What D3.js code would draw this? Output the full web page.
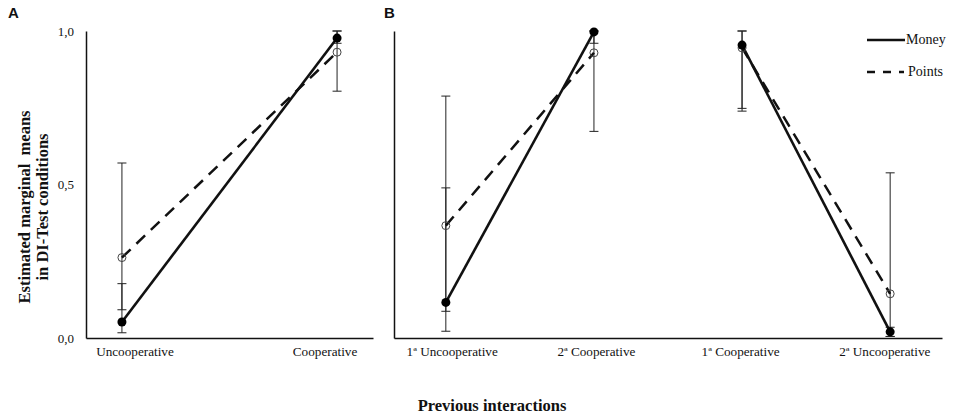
<!DOCTYPE html>
<html>
<head>
<meta charset="utf-8">
<script src="https://cdn.jsdelivr.net/npm/d3@7"></script>
<style>
  body { margin: 0; background: #fff; }
  svg { display: block; }
  text { fill: #111; }
</style>
</head>
<body>
<div id="vis"></div>
<script>
// ---- data ----
var catsA = ["Uncooperative", "Cooperative"];
var moneyA = [0.052, 0.977];
var pointsA = [0.262, 0.931];
var moneyErrA = [[0.017, 0.177], [0.96, 1.0]];
var pointsErrA = [[0.092, 0.57], [0.804, 1.0]];

var catsB = ["1ª Uncooperative", "2ª Cooperative", "1ª Cooperative", "2ª Uncooperative"];
var pairB = [0, 0, 1, 1];
var moneyB = [0.116, 0.997, 0.954, 0.02];
var pointsB = [0.366, 0.929, 0.945, 0.144];
var moneyErrB = [[0.087, 0.489], [0.96, 1.0], [0.748, 1.0], [0.005, 0.035]];
var pointsErrB = [[0.022, 0.788], [0.673, 1.0], [0.739, 1.0], [0.005, 0.538]];

var yTicks = [0, 0.5, 1];
var seriesNames = ["Money", "Points"];

var width = 957, height = 416;
var serif = "'Liberation Serif', 'Times New Roman', serif";

var svg = d3.select("#vis")
    .append("svg")
    .attr("width", width)
    .attr("height", height);

var y = d3.scaleLinear().domain([0, 1]).range([338, 31]);

////////// panel builder //////////

function panel(opts) {
  var g = svg.append("g");

  var x = d3.scalePoint().domain(opts.cats).range(opts.range).padding(opts.pad);
  var xLab = d3.scalePoint().domain(opts.cats).range(opts.range).padding(opts.labPad);

  // y axis (line only, optional labels)
  var yAxis = d3.axisLeft(y)
      .tickValues(opts.yLabels ? yTicks : [])
      .tickSize(0)
      .tickSizeOuter(0)
      .tickPadding(12)
      .tickFormat(function(d) { return d3.format(".1f")(d).replace(".", ","); });
  var ya = g.append("g")
      .attr("transform", "translate(" + opts.range[0] + ",0)")
      .call(yAxis);
  ya.select(".domain").attr("stroke", "#111").attr("stroke-width", 1.5);
  ya.selectAll("text").attr("font-family", serif).attr("font-size", 13).attr("fill", "#222");

  // x axis
  var xAxis = d3.axisBottom(xLab).tickSize(0).tickSizeOuter(0).tickPadding(9);
  var xa = g.append("g")
      .attr("transform", "translate(0," + y(0) + ")")
      .call(xAxis);
  xa.select(".domain").attr("stroke", "#111").attr("stroke-width", 1.5);
  xa.selectAll("text").attr("font-family", serif).attr("font-size", 13.2).attr("fill", "#222");

  // error bars
  var errs = [];
  opts.cats.forEach(function(c, i) {
    errs.push({c: c, lo: opts.moneyErr[i][0], hi: opts.moneyErr[i][1]});
    errs.push({c: c, lo: opts.pointsErr[i][0], hi: opts.pointsErr[i][1]});
  });
  var eb = g.append("g").attr("stroke", "#222").attr("stroke-width", 1);
  eb.selectAll(".stem").data(errs).enter().append("line")
      .attr("x1", function(d) { return x(d.c); })
      .attr("x2", function(d) { return x(d.c); })
      .attr("y1", function(d) { return y(d.lo); })
      .attr("y2", function(d) { return y(d.hi); });
  var caps = [];
  errs.forEach(function(d) { caps.push({c: d.c, v: d.lo}); caps.push({c: d.c, v: d.hi}); });
  eb.selectAll(".cap").data(caps).enter().append("line")
      .attr("x1", function(d) { return x(d.c) - 4.5; })
      .attr("x2", function(d) { return x(d.c) + 4.5; })
      .attr("y1", function(d) { return y(d.v); })
      .attr("y2", function(d) { return y(d.v); });

  // lines
  var line = d3.line()
      .x(function(d) { return x(d.c); })
      .y(function(d) { return y(d.v); });

  function segs(vals) {
    var groups = d3.group(opts.cats.map(function(c, i) {
      return {c: c, v: vals[i], p: opts.pairs[i]};
    }), function(d) { return d.p; });
    return Array.from(groups.values());
  }

  g.selectAll(".points-line").data(segs(opts.points)).enter().append("path")
      .attr("d", line)
      .attr("fill", "none")
      .attr("stroke", "#111")
      .attr("stroke-width", 2.5)
      .attr("stroke-dasharray", "12,8");

  g.selectAll(".money-line").data(segs(opts.money)).enter().append("path")
      .attr("d", line)
      .attr("fill", "none")
      .attr("stroke", "#111")
      .attr("stroke-width", 2.6);

  // markers
  g.selectAll(".pt").data(opts.cats).enter().append("circle")
      .attr("cx", function(d) { return x(d); })
      .attr("cy", function(d, i) { return y(opts.points[i]); })
      .attr("r", 4)
      .attr("fill", "none")
      .attr("stroke", "#444")
      .attr("stroke-width", 1);

  g.selectAll(".mn").data(opts.cats).enter().append("circle")
      .attr("cx", function(d) { return x(d); })
      .attr("cy", function(d, i) { return y(opts.money[i]); })
      .attr("r", 4.5)
      .attr("fill", "#000");

  // panel letter
  svg.append("text")
      .attr("x", opts.letterX)
      .attr("y", 18)
      .attr("font-family", "'Liberation Sans', Arial, sans-serif")
      .attr("font-weight", "bold")
      .attr("font-size", 15)
      .text(opts.letter);
}

panel({
  letter: "A", letterX: 8,
  cats: catsA, pairs: [0, 0],
  range: [86, 373], pad: 0.167, labPad: 0.255,
  money: moneyA, points: pointsA,
  moneyErr: moneyErrA, pointsErr: pointsErrA,
  yLabels: true
});

panel({
  letter: "B", letterX: 384,
  cats: catsB, pairs: pairB,
  range: [394, 942], pad: 0.35, labPad: 0.4,
  money: moneyB, points: pointsB,
  moneyErr: moneyErrB, pointsErr: pointsErrB,
  yLabels: false
});

////////// axis titles //////////

var yTitle = svg.append("g").attr("font-family", serif).attr("font-weight", "bold").attr("font-size", 16.5);
yTitle.append("text")
    .attr("transform", "translate(30,207) rotate(-90)")
    .attr("text-anchor", "middle")
    .text("Estimated marginal  means")
    .style("white-space", "pre");
yTitle.append("text")
    .attr("transform", "translate(48,207) rotate(-90)")
    .attr("text-anchor", "middle")
    .text("in DI-Test conditions");

svg.append("text")
    .attr("x", 492)
    .attr("y", 411)
    .attr("text-anchor", "middle")
    .attr("font-family", serif)
    .attr("font-weight", "bold")
    .attr("font-size", 16.5)
    .text("Previous interactions");

////////// legend //////////

var legend = svg.append("g").attr("font-family", serif).attr("font-size", 14);
var leg = legend.selectAll(".leg").data(seriesNames).enter().append("g")
    .attr("transform", function(d, i) { return "translate(867," + (40 + i * 32) + ")"; });
leg.append("line")
    .attr("x1", 0).attr("x2", function(d, i) { return i ? 37 : 38; })
    .attr("stroke", "#111")
    .attr("stroke-width", 2.5)
    .attr("stroke-dasharray", function(d, i) { return i ? "8,8" : null; });
leg.append("text")
    .attr("x", function(d, i) { return i ? 41 : 39; })
    .attr("y", 4)
    .text(function(d) { return d; });
</script>
</body>
</html>
